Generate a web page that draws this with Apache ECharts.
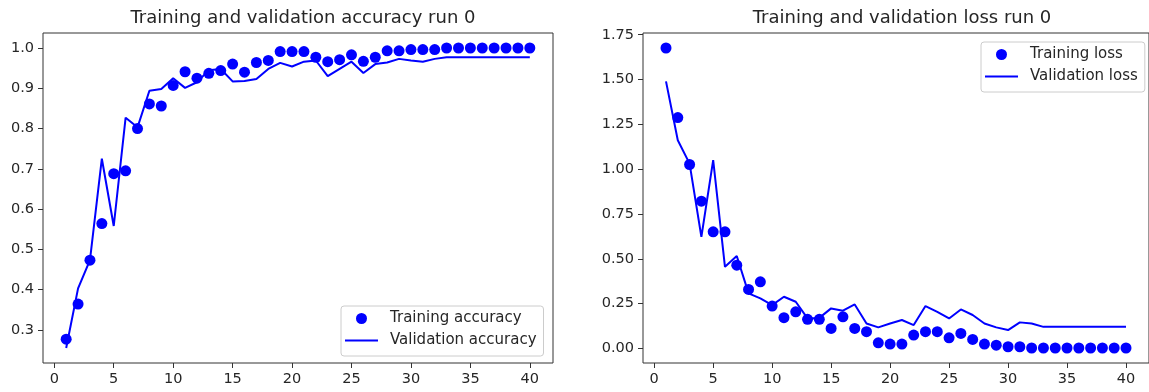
<!DOCTYPE html>
<html>
<head>
<meta charset="utf-8">
<script src="https://cdn.jsdelivr.net/npm/echarts@6/dist/echarts.min.js"></script>
<style>
  html, body { margin: 0; padding: 0; background: #fff; }
  #chart { width: 1149px; height: 392px; }
</style>
</head>
<body>
<div id="chart"></div>
<script>
// Training history of run 0: 40 epochs
const epochs = [1,2,3,4,5,6,7,8,9,10,11,12,13,14,15,16,17,18,19,20,
                21,22,23,24,25,26,27,28,29,30,31,32,33,34,35,36,37,38,39,40];

const trainAcc = [0.277,0.364,0.473,0.564,0.688,0.695,0.800,0.861,0.856,0.907,
                  0.941,0.925,0.937,0.944,0.960,0.940,0.964,0.969,0.991,0.991,
                  0.991,0.977,0.966,0.971,0.983,0.967,0.977,0.993,0.993,0.996,
                  0.996,0.996,1.000,1.000,1.000,1.000,1.000,1.000,1.000,1.000];

const valAcc = [0.255,0.403,0.473,0.725,0.558,0.827,0.803,0.894,0.898,0.925,
                0.901,0.915,0.945,0.948,0.917,0.918,0.923,0.948,0.963,0.954,
                0.966,0.969,0.930,0.948,0.966,0.938,0.960,0.964,0.973,0.969,
                0.966,0.973,0.977,0.977,0.977,0.977,0.977,0.977,0.977,0.977];

const trainLoss = [1.676,1.288,1.026,0.821,0.650,0.650,0.464,0.329,0.371,0.236,
                   0.171,0.204,0.162,0.162,0.111,0.176,0.111,0.093,0.031,0.024,
                   0.024,0.074,0.093,0.093,0.059,0.083,0.050,0.024,0.018,0.009,
                   0.009,0.002,0.002,0.002,0.002,0.002,0.002,0.002,0.002,0.002];

const valLoss = [1.490,1.161,1.031,0.622,1.050,0.455,0.515,0.307,0.279,0.241,
                 0.288,0.260,0.167,0.170,0.223,0.210,0.245,0.139,0.117,0.139,
                 0.158,0.130,0.236,0.204,0.167,0.217,0.186,0.139,0.117,0.102,
                 0.145,0.139,0.120,0.120,0.120,0.120,0.120,0.120,0.120,0.120];

const xTicks = [0,5,10,15,20,25,30,35,40];
const accTicks = [0.3,0.4,0.5,0.6,0.7,0.8,0.9,1.0];
const lossTicks = [0,0.25,0.5,0.75,1.0,1.25,1.5,1.75];

// axis limits with a 5% margin around the data, like the plotting default
function padded(arrays) {
  const all = [].concat(...arrays);
  const lo = Math.min(...all), hi = Math.max(...all);
  const m = (hi - lo) * 0.05;
  return [lo - m, hi + m];
}
const xLim = padded([epochs]);
const accLim = padded([trainAcc, valAcc]);
const lossLim = padded([trainLoss, valLoss]);

const pairs = (ys) => epochs.map((e, i) => [e, ys[i]]);

const FONT = 'DejaVu Sans';
const TXT = '#262626';
const SPINE = '#333333';
const BLUE = '#0000ff';
const LINE_ICON = 'path://M0,0 L33,0 L33,2.2 L0,2.2 Z';

function xAxis(gridIndex) {
  return {
    type: 'value', gridIndex, min: xLim[0], max: xLim[1],
    axisLine: { show: false, onZero: false },
    splitLine: { show: false },
    axisTick: { show: true, length: 5, customValues: xTicks, lineStyle: { color: SPINE } },
    axisLabel: { customValues: xTicks, margin: 9, color: TXT, fontFamily: FONT, fontSize: 14.5 }
  };
}
function yAxis(gridIndex, lim, ticks, digits) {
  return {
    type: 'value', gridIndex, min: lim[0], max: lim[1],
    axisLine: { show: false, onZero: false },
    splitLine: { show: false },
    axisTick: { show: true, length: 5, customValues: ticks, lineStyle: { color: SPINE } },
    axisLabel: { customValues: ticks, margin: 9, color: TXT, fontFamily: FONT, fontSize: 14.5,
                 formatter: (v) => v.toFixed(digits) }
  };
}
function legend(dotName, lineName, left, top) {
  return {
    orient: 'vertical', left, top,
    data: [{ name: dotName, icon: 'circle' }, { name: lineName, icon: LINE_ICON }],
    itemWidth: 33, itemHeight: 11, itemGap: 7,
    padding: [5, 7, 8, 4],
    backgroundColor: 'rgba(255,255,255,0.8)',
    borderColor: '#cccccc', borderWidth: 1, borderRadius: 3,
    textStyle: { color: TXT, fontFamily: FONT, fontSize: 15, padding: [0, 0, 0, 7] },
    selectedMode: false
  };
}

const chart = echarts.init(document.getElementById('chart'), null, { renderer: 'canvas' });
chart.setOption({
  animation: false,
  backgroundColor: '#ffffff',
  title: [
    { text: 'Training and validation accuracy run 0', left: 298, top: 4, textAlign: 'center',
      textStyle: { color: TXT, fontFamily: FONT, fontSize: 18, fontWeight: 'normal' } },
    { text: 'Training and validation loss run 0', left: 897, top: 4, textAlign: 'center',
      textStyle: { color: TXT, fontFamily: FONT, fontSize: 18, fontWeight: 'normal' } }
  ],
  grid: [
    { left: 43, top: 33, width: 510, height: 330, show: true, borderColor: SPINE, borderWidth: 1, backgroundColor: 'transparent' },
    { left: 643, top: 33, width: 509, height: 330, show: true, borderColor: SPINE, borderWidth: 1, backgroundColor: 'transparent' }
  ],
  xAxis: [xAxis(0), xAxis(1)],
  yAxis: [yAxis(0, accLim, accTicks, 1), yAxis(1, lossLim, lossTicks, 2)],
  legend: [
    legend('Training accuracy', 'Validation accuracy', 341, 306),
    legend('Training loss', 'Validation loss', 981, 42)
  ],
  series: [
    { name: 'Training accuracy', type: 'scatter', xAxisIndex: 0, yAxisIndex: 0,
      data: pairs(trainAcc), symbol: 'circle', symbolSize: 11, itemStyle: { color: BLUE, opacity: 1 } },
    { name: 'Validation accuracy', type: 'line', xAxisIndex: 0, yAxisIndex: 0,
      data: pairs(valAcc), symbol: 'none', lineStyle: { color: BLUE, width: 2 }, itemStyle: { color: BLUE } },
    { name: 'Training loss', type: 'scatter', xAxisIndex: 1, yAxisIndex: 1,
      data: pairs(trainLoss), symbol: 'circle', symbolSize: 11, itemStyle: { color: BLUE, opacity: 1 } },
    { name: 'Validation loss', type: 'line', xAxisIndex: 1, yAxisIndex: 1,
      data: pairs(valLoss), symbol: 'none', lineStyle: { color: BLUE, width: 2 }, itemStyle: { color: BLUE } }
  ]
});
</script>
</body>
</html>
